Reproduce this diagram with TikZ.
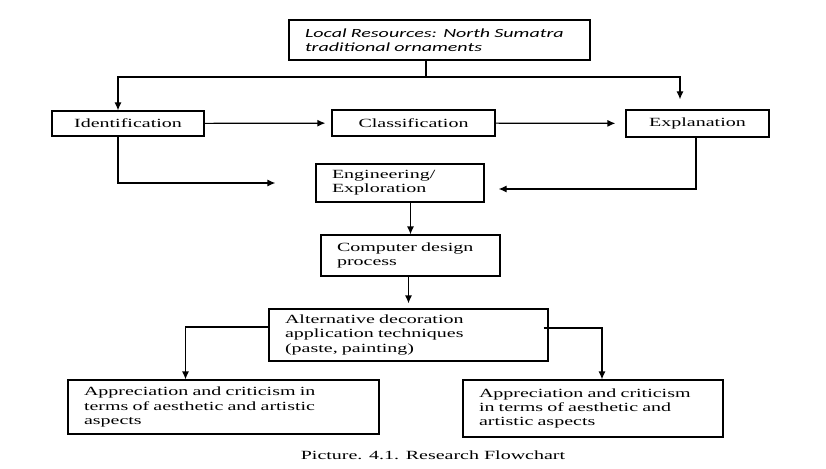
\documentclass[tikz,border=0pt]{standalone}
\usepackage{fontspec}
\setmainfont{Liberation Serif}[FakeStretch=1.6]
\newfontfamily\calfont{Carlito}[FakeStretch=1.6]
\usepackage{tikz}
\usetikzlibrary{arrows.meta}

\begin{document}
\begin{tikzpicture}[x=1pt,y=-1pt,>={Latex[length=8pt,width=7pt]},line width=1.2pt,
    every node/.style={font=\fontsize{12.5}{14.3}\selectfont},
    stage/.style={draw,inner xsep=16pt,inner ysep=0pt,align=left}]
    \useasboundingbox (0,0) rectangle (826,468);
    \node[stage,text width=269pt,minimum height=40pt,font=\calfont\itshape\fontsize{12.5}{13.5}\selectfont] (res) at (439.5,40) {Local Resources: North Sumatra\\traditional ornaments};
    \node[stage,text width=120pt,align=center,minimum height=25pt] (ident) at (128,123.5) {Identification};
    \node[stage,text width=131pt,align=center,minimum height=26pt] (class) at (413.5,123) {Classification};
    \node[stage,text width=111pt,align=center,minimum height=27pt] (expl) at (697.5,123.5) {Explanation};
    \node[stage,text width=136pt,minimum height=38pt] (eng) at (400,183) {Engineering/\\Exploration};
    \node[stage,text width=147pt,minimum height=41pt] (comp) at (410.5,255.5) {Computer design\\process};
    \node[stage,text width=247pt,minimum height=52pt] (alt) at (408.5,335) {Alternative decoration\\application techniques\\(paste, painting)};
    \node[stage,text width=279pt,minimum height=54pt] (appL) at (223.5,407) {Appreciation and criticism in\\terms of aesthetic and artistic\\aspects};
    \node[stage,text width=228pt,minimum height=57pt] (appR) at (593,408.5) {Appreciation and criticism\\in terms of aesthetic and\\artistic aspects};
    \node (cap) at (433,455) {Picture. 4.1. Research Flowchart};
    \coordinate (split) at (426,77);
    \draw (res.south -| split) -- (split);
    \draw[->] (split) -| ([xshift=-10pt]ident.north);
    \draw[->] (split) -| ([xshift=-17.5pt,yshift=10pt]expl.north);
    \draw[->,shorten >=6pt] (ident) -- (class);
    \draw[->,shorten >=10pt] (class) -- (expl);
    \draw[->,shorten >=40pt] ([xshift=-10pt]ident.south) |- (eng.west);
    \draw[->,shorten >=14pt] ([xshift=-1.5pt]expl.south) |- ([yshift=-6pt]eng.east);
    \draw[->] (eng.south -| comp.north) -- (comp.north);
    \draw[->,shorten >=5pt] (comp.south -| alt.north) -- (alt.north);
    \draw[->] ([yshift=8pt]alt.west) -| ([xshift=-38pt]appL.north);
    \draw[->] ([xshift=-5pt,yshift=7pt]alt.east) -| ([xshift=9pt]appR.north);
  \end{tikzpicture}
\end{document}
